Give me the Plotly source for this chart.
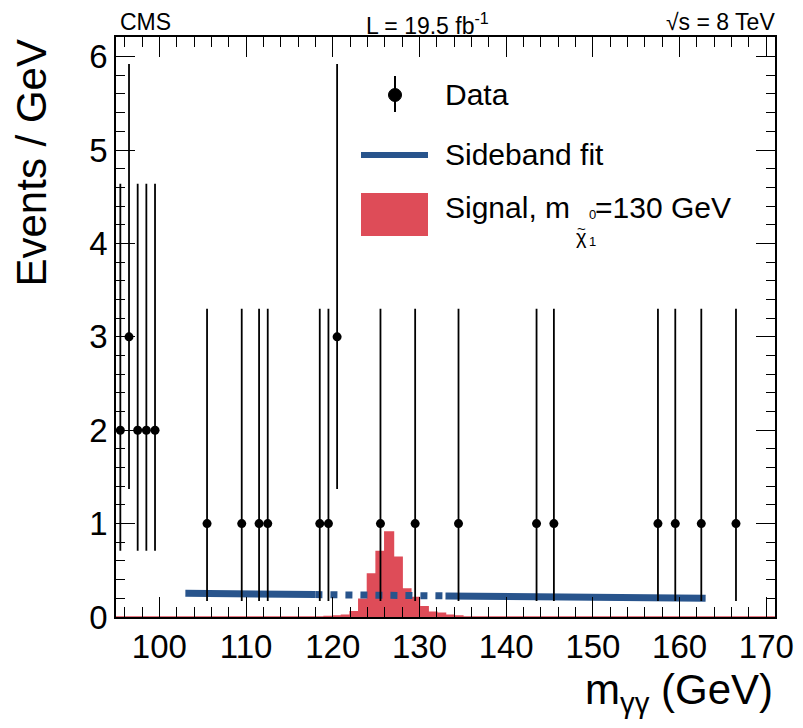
import plotly.graph_objects as go

# ---------------- data ----------------
data_x = [95.5, 96.5, 97.5, 98.5, 99.5, 105.5, 109.5, 111.5, 112.5, 118.5, 119.5,
          120.5, 125.5, 129.5, 134.5, 143.5, 145.5, 157.5, 159.5, 162.5, 166.5]
data_y = [2, 3, 2, 2, 2, 1, 1, 1, 1, 1, 1, 3, 1, 1, 1, 1, 1, 1, 1, 1, 1]
# Poisson interval edges per count
err_hi_edge = {1: 3.30, 2: 4.64, 3: 5.92}
err_lo_edge = {1: 0.17, 2: 0.71, 3: 1.37}

# signal histogram: 1 GeV bins (lower edges) and contents
sig_lo = [118, 119, 120, 121, 122, 123, 124, 125, 126, 127, 128, 129, 130, 131, 132, 133, 134, 135]
sig_val = [0.0, 0.005, 0.01, 0.02, 0.057, 0.19, 0.46, 0.70, 0.91, 0.64, 0.30, 0.21, 0.11,
           0.05, 0.04, 0.02, 0.01, 0.0]

# sideband fit
fit_x1 = [103, 110, 118]
fit_y1 = [0.255, 0.248, 0.240]
fit_x2 = [118, 125, 133]
fit_y2 = [0.240, 0.233, 0.226]
fit_x3 = [133, 148, 163]
fit_y3 = [0.226, 0.213, 0.200]

xticks = [100, 110, 120, 130, 140, 150, 160, 170]
yticks = [0, 1, 2, 3, 4, 5, 6]

RED = "rgb(222,76,88)"
BLUE = "rgb(40,84,140)"

# plot area pixel box (page coordinates)
L, R, T, B = 116, 775, 37, 617
OFF = 8  # default page body margin
W, H = 803 - OFF, 728 - OFF
def px(xp):
    return (xp - L) / (R - L)
def py(yp):
    return (B - yp) / (B - T)

fig = go.Figure()

# signal (full range with zero baseline so the red line spans the axis)
sx = [95] + sig_lo + [171]
sy = [0.0] + sig_val + [0.0]
fig.add_trace(go.Scatter(x=sx, y=sy, mode="lines", line=dict(shape="hv", color=RED, width=1.5),
                         fill="tozeroy", fillcolor=RED, hoverinfo="skip", showlegend=False))

# fit
for fx, fy, dash in [(fit_x1, fit_y1, "solid"), (fit_x2, fit_y2, "7px,8px"), (fit_x3, fit_y3, "solid")]:
    fig.add_trace(go.Scatter(x=fx, y=fy, mode="lines",
                             line=dict(color=BLUE, width=7, dash=dash), showlegend=False))

# data
up = [err_hi_edge[v] - v for v in data_y]
dn = [v - err_lo_edge[v] for v in data_y]
fig.add_trace(go.Scatter(x=data_x, y=data_y, mode="markers",
                         marker=dict(color="black", size=9),
                         error_y=dict(type="data", symmetric=False, array=up, arrayminus=dn,
                                      width=0, thickness=1.8, color="black"),
                         showlegend=False))

FONT = "Liberation Sans, Arial"
tickfont = dict(family=FONT, size=33, color="black")

fig.update_xaxes(range=[95, 171], tickvals=xticks, ticks="inside", ticklen=20, tickwidth=1.2,
                 tickcolor="black", mirror="ticks", showline=True, linecolor="black", linewidth=1.5,
                 showgrid=False, zeroline=False, tickfont=tickfont, automargin=False,
                 minor=dict(dtick=2, tick0=100, ticks="inside", ticklen=10, tickcolor="black", tickwidth=1.2))
fig.update_yaxes(range=[0, 6.21], tickvals=yticks, ticks="inside", ticklen=19, tickwidth=1.2,
                 tickcolor="black", mirror="ticks", showline=True, linecolor="black", linewidth=1.5,
                 showgrid=False, zeroline=False, tickfont=tickfont, automargin=False,
                 minor=dict(dtick=0.2, tick0=0, ticks="inside", ticklen=9, tickcolor="black", tickwidth=1.2))

ann = []
big = dict(family=FONT, size=42, color="black")
leg = dict(family=FONT, size=30, color="black")
top = dict(family=FONT, size=23, color="black")

def A(text, x, y, xa="left", ya="middle", font=leg, angle=0):
    ann.append(dict(text=text, x=px(x), y=py(y), xref="paper", yref="paper", textangle=angle,
                    xanchor=xa, yanchor=ya, showarrow=False, font=font))

A("Events / GeV", 31, 38, "center", "top", big, -90)
A("m<sub>γγ</sub> (GeV)", 775, 692, "right", "middle", big)
A("CMS", 118, 22, "left", "middle", top)
A("L = 19.5 fb<sup>-1</sup>", 427, 24, "center", "middle", top)
A("√s = 8 TeV", 777, 22, "right", "middle", top)
# legend texts
A("Data", 443, 95)
A("Sideband fit", 443, 155)
A("Signal, m", 443, 207)
A("χ", 574, 237, font=dict(family=FONT, size=20, color="black"))
A("~", 575, 228, font=dict(family=FONT, size=15, color="black"))
A("0", 587, 214, font=dict(family=FONT, size=13, color="black"))
A("1", 587, 241, font=dict(family=FONT, size=13, color="black"))
A("=130 GeV", 593, 207)

shapes = []
# legend data marker
shapes.append(dict(type="line", xref="paper", yref="paper", x0=px(395), x1=px(395), y0=py(76), y1=py(112),
                   line=dict(color="black", width=2)))
shapes.append(dict(type="circle", xref="paper", yref="paper", x0=px(388.5), x1=px(401.5), y0=py(88.5), y1=py(101.5),
                   fillcolor="black", line=dict(color="black", width=1)))
# legend fit line
shapes.append(dict(type="line", xref="paper", yref="paper", x0=px(361), x1=px(428), y0=py(155), y1=py(155),
                   line=dict(color=BLUE, width=6)))
# legend signal box
shapes.append(dict(type="rect", xref="paper", yref="paper", x0=px(361), x1=px(428), y0=py(193), y1=py(236),
                   fillcolor=RED, line=dict(width=0)))

fig.update_layout(width=W, height=H,
                  margin=dict(l=L - OFF, r=803 - R, t=T - OFF, b=728 - B),
                  plot_bgcolor="white", paper_bgcolor="white", annotations=ann, shapes=shapes,
                  showlegend=False)

fig.write_html("out.html")
